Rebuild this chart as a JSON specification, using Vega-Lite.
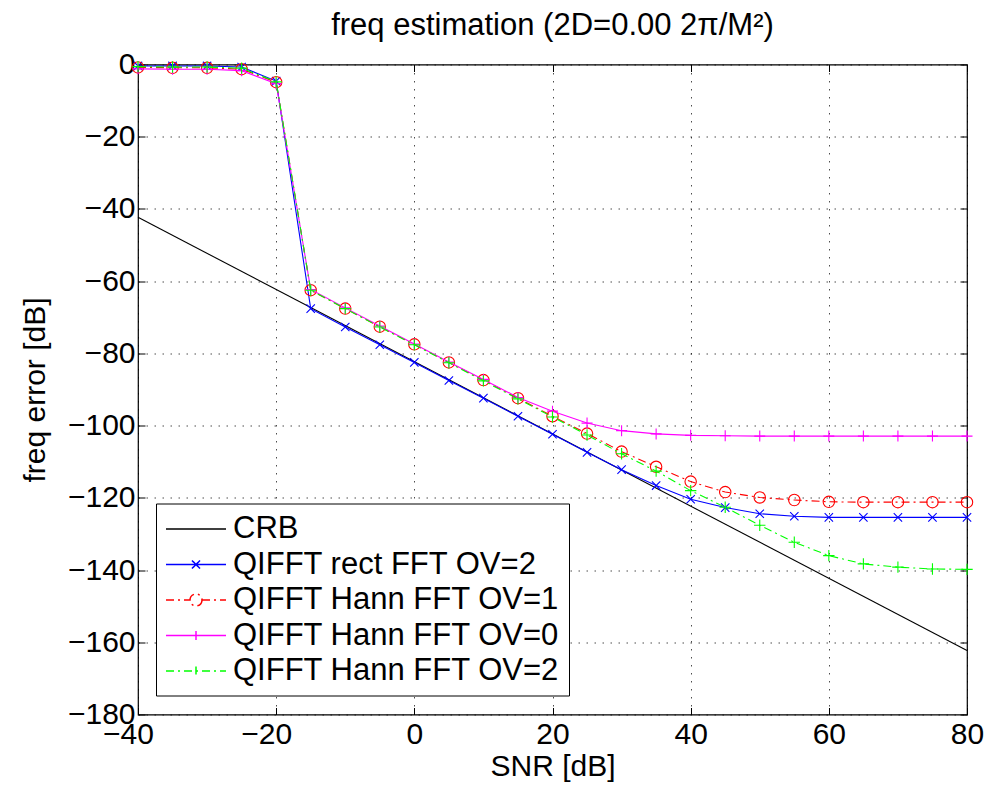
{
  "$schema": "https://vega.github.io/schema/vega-lite/v6.json",
  "width": 829,
  "height": 650,
  "autosize": {"type": "none"},
  "padding": {"left": 138, "top": 64.5, "right": 21, "bottom": 76.5},
  "background": "white",
  "title": {"text": "freq estimation (2D=0.00 2π/M²)", "font": "Liberation Sans", "fontSize": 31, "fontWeight": "normal", "color": "black", "offset": 8, "anchor": "middle"},
  "config": {
    "view": {"stroke": "black", "strokeWidth": 1.2},
    "axis": {"labelFont": "Liberation Sans", "labelFontSize": 30, "labelColor": "black", "titleFont": "Liberation Sans", "titleFontSize": 30, "titleColor": "black", "titleFontWeight": "normal", "tickColor": "black", "tickSize": -7, "tickWidth": 1, "domain": false, "gridColor": "black", "gridDash": [1.5, 6.5], "gridOpacity": 0.7, "gridWidth": 1, "labelFlush": false, "labelOverlap": false},
    "legend": {"labelFont": "Liberation Sans", "labelFontSize": 31, "labelColor": "black", "labelLimit": 0}
  },
  "data": {"values": [
    {"series": "CRB", "snr": -40, "err": -42.3},
    {"series": "CRB", "snr": 80, "err": -162.3},
    {"series": "QIFFT rect FFT OV=2", "snr": -40, "err": -0.4},
    {"series": "QIFFT rect FFT OV=2", "snr": -35, "err": -0.4},
    {"series": "QIFFT rect FFT OV=2", "snr": -30, "err": -0.4},
    {"series": "QIFFT rect FFT OV=2", "snr": -25, "err": -0.7},
    {"series": "QIFFT rect FFT OV=2", "snr": -20, "err": -4.6},
    {"series": "QIFFT rect FFT OV=2", "snr": -15, "err": -67.6},
    {"series": "QIFFT rect FFT OV=2", "snr": -10, "err": -72.7},
    {"series": "QIFFT rect FFT OV=2", "snr": -5, "err": -77.6},
    {"series": "QIFFT rect FFT OV=2", "snr": 0, "err": -82.5},
    {"series": "QIFFT rect FFT OV=2", "snr": 5, "err": -87.5},
    {"series": "QIFFT rect FFT OV=2", "snr": 10, "err": -92.4},
    {"series": "QIFFT rect FFT OV=2", "snr": 15, "err": -97.4},
    {"series": "QIFFT rect FFT OV=2", "snr": 20, "err": -102.4},
    {"series": "QIFFT rect FFT OV=2", "snr": 25, "err": -107.4},
    {"series": "QIFFT rect FFT OV=2", "snr": 30, "err": -112.2},
    {"series": "QIFFT rect FFT OV=2", "snr": 35, "err": -116.6},
    {"series": "QIFFT rect FFT OV=2", "snr": 40, "err": -120.4},
    {"series": "QIFFT rect FFT OV=2", "snr": 45, "err": -122.7},
    {"series": "QIFFT rect FFT OV=2", "snr": 50, "err": -124.4},
    {"series": "QIFFT rect FFT OV=2", "snr": 55, "err": -125.1},
    {"series": "QIFFT rect FFT OV=2", "snr": 60, "err": -125.4},
    {"series": "QIFFT rect FFT OV=2", "snr": 65, "err": -125.4},
    {"series": "QIFFT rect FFT OV=2", "snr": 70, "err": -125.4},
    {"series": "QIFFT rect FFT OV=2", "snr": 75, "err": -125.4},
    {"series": "QIFFT rect FFT OV=2", "snr": 80, "err": -125.4},
    {"series": "QIFFT Hann FFT OV=1", "snr": -40, "err": -0.8},
    {"series": "QIFFT Hann FFT OV=1", "snr": -35, "err": -0.9},
    {"series": "QIFFT Hann FFT OV=1", "snr": -30, "err": -0.9},
    {"series": "QIFFT Hann FFT OV=1", "snr": -25, "err": -1.3},
    {"series": "QIFFT Hann FFT OV=1", "snr": -20, "err": -4.9},
    {"series": "QIFFT Hann FFT OV=1", "snr": -15, "err": -62.5},
    {"series": "QIFFT Hann FFT OV=1", "snr": -10, "err": -67.6},
    {"series": "QIFFT Hann FFT OV=1", "snr": -5, "err": -72.6},
    {"series": "QIFFT Hann FFT OV=1", "snr": 0, "err": -77.5},
    {"series": "QIFFT Hann FFT OV=1", "snr": 5, "err": -82.5},
    {"series": "QIFFT Hann FFT OV=1", "snr": 10, "err": -87.4},
    {"series": "QIFFT Hann FFT OV=1", "snr": 15, "err": -92.4},
    {"series": "QIFFT Hann FFT OV=1", "snr": 20, "err": -97.4},
    {"series": "QIFFT Hann FFT OV=1", "snr": 25, "err": -102.2},
    {"series": "QIFFT Hann FFT OV=1", "snr": 30, "err": -107.2},
    {"series": "QIFFT Hann FFT OV=1", "snr": 35, "err": -111.4},
    {"series": "QIFFT Hann FFT OV=1", "snr": 40, "err": -115.5},
    {"series": "QIFFT Hann FFT OV=1", "snr": 45, "err": -118.4},
    {"series": "QIFFT Hann FFT OV=1", "snr": 50, "err": -119.9},
    {"series": "QIFFT Hann FFT OV=1", "snr": 55, "err": -120.6},
    {"series": "QIFFT Hann FFT OV=1", "snr": 60, "err": -121.1},
    {"series": "QIFFT Hann FFT OV=1", "snr": 65, "err": -121.2},
    {"series": "QIFFT Hann FFT OV=1", "snr": 70, "err": -121.2},
    {"series": "QIFFT Hann FFT OV=1", "snr": 75, "err": -121.2},
    {"series": "QIFFT Hann FFT OV=1", "snr": 80, "err": -121.2},
    {"series": "QIFFT Hann FFT OV=0", "snr": -40, "err": -1.2},
    {"series": "QIFFT Hann FFT OV=0", "snr": -35, "err": -1.3},
    {"series": "QIFFT Hann FFT OV=0", "snr": -30, "err": -1.3},
    {"series": "QIFFT Hann FFT OV=0", "snr": -25, "err": -1.7},
    {"series": "QIFFT Hann FFT OV=0", "snr": -20, "err": -5.3},
    {"series": "QIFFT Hann FFT OV=0", "snr": -15, "err": -62.3},
    {"series": "QIFFT Hann FFT OV=0", "snr": -10, "err": -67.4},
    {"series": "QIFFT Hann FFT OV=0", "snr": -5, "err": -72.4},
    {"series": "QIFFT Hann FFT OV=0", "snr": 0, "err": -77.4},
    {"series": "QIFFT Hann FFT OV=0", "snr": 5, "err": -82.4},
    {"series": "QIFFT Hann FFT OV=0", "snr": 10, "err": -87.2},
    {"series": "QIFFT Hann FFT OV=0", "snr": 15, "err": -92.2},
    {"series": "QIFFT Hann FFT OV=0", "snr": 20, "err": -96.0},
    {"series": "QIFFT Hann FFT OV=0", "snr": 25, "err": -99.3},
    {"series": "QIFFT Hann FFT OV=0", "snr": 30, "err": -101.4},
    {"series": "QIFFT Hann FFT OV=0", "snr": 35, "err": -102.3},
    {"series": "QIFFT Hann FFT OV=0", "snr": 40, "err": -102.7},
    {"series": "QIFFT Hann FFT OV=0", "snr": 45, "err": -102.8},
    {"series": "QIFFT Hann FFT OV=0", "snr": 50, "err": -102.9},
    {"series": "QIFFT Hann FFT OV=0", "snr": 55, "err": -102.9},
    {"series": "QIFFT Hann FFT OV=0", "snr": 60, "err": -102.9},
    {"series": "QIFFT Hann FFT OV=0", "snr": 65, "err": -102.9},
    {"series": "QIFFT Hann FFT OV=0", "snr": 70, "err": -102.9},
    {"series": "QIFFT Hann FFT OV=0", "snr": 75, "err": -102.9},
    {"series": "QIFFT Hann FFT OV=0", "snr": 80, "err": -102.9},
    {"series": "QIFFT Hann FFT OV=2", "snr": -40, "err": -0.6},
    {"series": "QIFFT Hann FFT OV=2", "snr": -35, "err": -0.7},
    {"series": "QIFFT Hann FFT OV=2", "snr": -30, "err": -0.7},
    {"series": "QIFFT Hann FFT OV=2", "snr": -25, "err": -1.0},
    {"series": "QIFFT Hann FFT OV=2", "snr": -20, "err": -4.8},
    {"series": "QIFFT Hann FFT OV=2", "snr": -15, "err": -62.5},
    {"series": "QIFFT Hann FFT OV=2", "snr": -10, "err": -67.6},
    {"series": "QIFFT Hann FFT OV=2", "snr": -5, "err": -72.7},
    {"series": "QIFFT Hann FFT OV=2", "snr": 0, "err": -77.6},
    {"series": "QIFFT Hann FFT OV=2", "snr": 5, "err": -82.6},
    {"series": "QIFFT Hann FFT OV=2", "snr": 10, "err": -87.6},
    {"series": "QIFFT Hann FFT OV=2", "snr": 15, "err": -92.6},
    {"series": "QIFFT Hann FFT OV=2", "snr": 20, "err": -97.6},
    {"series": "QIFFT Hann FFT OV=2", "snr": 25, "err": -102.6},
    {"series": "QIFFT Hann FFT OV=2", "snr": 30, "err": -107.8},
    {"series": "QIFFT Hann FFT OV=2", "snr": 35, "err": -112.6},
    {"series": "QIFFT Hann FFT OV=2", "snr": 40, "err": -118.0},
    {"series": "QIFFT Hann FFT OV=2", "snr": 45, "err": -122.6},
    {"series": "QIFFT Hann FFT OV=2", "snr": 50, "err": -127.6},
    {"series": "QIFFT Hann FFT OV=2", "snr": 55, "err": -132.3},
    {"series": "QIFFT Hann FFT OV=2", "snr": 60, "err": -136.0},
    {"series": "QIFFT Hann FFT OV=2", "snr": 65, "err": -138.3},
    {"series": "QIFFT Hann FFT OV=2", "snr": 70, "err": -139.2},
    {"series": "QIFFT Hann FFT OV=2", "snr": 75, "err": -139.7},
    {"series": "QIFFT Hann FFT OV=2", "snr": 80, "err": -139.8}
  ]},
  "resolve": {"axis": {"x": "independent", "y": "independent"}},
  "layer": [
    {
      "transform": [{"filter": {"field": "series", "equal": "CRB"}}],
      "mark": {"type": "line", "color": "black", "strokeWidth": 1.1},
      "encoding": {
        "x": {"field": "snr", "type": "quantitative", "scale": {"domain": [-40, 80], "nice": false, "zero": false},
              "axis": {"orient": "top", "labels": false, "grid": false, "ticks": true, "title": null, "values": [-40, -20, 0, 20, 40, 60, 80]}},
        "y": {"field": "err", "type": "quantitative", "scale": {"domain": [-180, 0], "nice": false, "zero": false},
              "axis": {"orient": "right", "labels": false, "grid": false, "ticks": true, "title": null, "values": [-180, -160, -140, -120, -100, -80, -60, -40, -20, 0]}}
      }
    },
    {
      "transform": [{"filter": {"field": "series", "equal": "QIFFT rect FFT OV=2"}}],
      "mark": {"type": "line", "color": "#0000ff", "strokeWidth": 1.1},
      "encoding": {
        "x": {"field": "snr", "type": "quantitative",
              "axis": {"orient": "bottom", "grid": true, "title": "SNR [dB]", "values": [-40, -20, 0, 20, 40, 60, 80], "labelPadding": 12, "titlePadding": 2,
                       "labelOffset": {"condition": {"test": "datum.value < 0", "value": -10}, "value": 0}}},
        "y": {"field": "err", "type": "quantitative",
              "axis": {"orient": "left", "grid": true, "title": "freq error [dB]", "values": [-180, -160, -140, -120, -100, -80, -60, -40, -20, 0], "labelPadding": 10, "titlePadding": 17}}
      }
    },
    {
      "transform": [{"filter": {"field": "series", "equal": "QIFFT rect FFT OV=2"}}],
      "mark": {"type": "point", "shape": "M-1,-1L1,1M-1,1L1,-1", "size": 70, "filled": false, "color": "#0000ff", "strokeWidth": 1.1, "opacity": 1},
      "encoding": {
        "x": {"field": "snr", "type": "quantitative", "axis": null},
        "y": {"field": "err", "type": "quantitative", "axis": null}
      }
    },
    {
      "transform": [{"filter": {"field": "series", "equal": "QIFFT Hann FFT OV=1"}}],
      "mark": {"type": "line", "color": "#ff0000", "strokeWidth": 1.1, "strokeDash": [8, 4, 2, 4]},
      "encoding": {
        "x": {"field": "snr", "type": "quantitative", "axis": null},
        "y": {"field": "err", "type": "quantitative", "axis": null}
      }
    },
    {
      "transform": [{"filter": {"field": "series", "equal": "QIFFT Hann FFT OV=1"}}],
      "mark": {"type": "point", "shape": "circle", "size": 130, "filled": false, "color": "#ff0000", "strokeWidth": 1.1, "opacity": 1},
      "encoding": {
        "x": {"field": "snr", "type": "quantitative", "axis": null},
        "y": {"field": "err", "type": "quantitative", "axis": null}
      }
    },
    {
      "transform": [{"filter": {"field": "series", "equal": "QIFFT Hann FFT OV=0"}}],
      "mark": {"type": "line", "color": "#ff00ff", "strokeWidth": 1.1},
      "encoding": {
        "x": {"field": "snr", "type": "quantitative", "axis": null},
        "y": {"field": "err", "type": "quantitative", "axis": null}
      }
    },
    {
      "transform": [{"filter": {"field": "series", "equal": "QIFFT Hann FFT OV=0"}}],
      "mark": {"type": "point", "shape": "M-1,0L1,0M0,-1L0,1", "size": 121, "filled": false, "color": "#ff00ff", "strokeWidth": 1.1, "opacity": 1},
      "encoding": {
        "x": {"field": "snr", "type": "quantitative", "axis": null},
        "y": {"field": "err", "type": "quantitative", "axis": null}
      }
    },
    {
      "transform": [{"filter": {"field": "series", "equal": "QIFFT Hann FFT OV=2"}}],
      "mark": {"type": "line", "color": "#00ff00", "strokeWidth": 1.1, "strokeDash": [8, 4, 2, 4]},
      "encoding": {
        "x": {"field": "snr", "type": "quantitative", "axis": null},
        "y": {"field": "err", "type": "quantitative", "axis": null}
      }
    },
    {
      "transform": [{"filter": {"field": "series", "equal": "QIFFT Hann FFT OV=2"}}],
      "mark": {"type": "point", "shape": "M-1,0L1,0M0,-1L0,1", "size": 130, "filled": false, "color": "#00ff00", "strokeWidth": 1.1, "opacity": 1},
      "encoding": {
        "x": {"field": "snr", "type": "quantitative", "axis": null},
        "y": {"field": "err", "type": "quantitative", "axis": null}
      }
    },
    {
      "transform": [{"filter": "datum.snr > 1000"}],
      "mark": {"type": "point", "filled": false, "size": 900, "strokeWidth": 1.1, "opacity": 1},
      "encoding": {
        "color": {"field": "series", "type": "nominal",
                  "scale": {"domain": ["CRB", "QIFFT rect FFT OV=2", "QIFFT Hann FFT OV=1", "QIFFT Hann FFT OV=0", "QIFFT Hann FFT OV=2"],
                            "range": ["#000000", "#0000ff", "#ff0000", "#ff00ff", "#00ff00"]},
                  "legend": {"title": null, "orient": "none", "legendX": 18, "legendY": 439, "padding": 9.5, "strokeColor": "black", "fillColor": "white", "symbolSize": 900, "rowPadding": 4.5, "labelOffset": 21, "symbolOffset": 14.5, "labelFontSize": 31, "labelLimit": 0}},
        "shape": {"field": "series", "type": "nominal",
                  "scale": {"domain": ["CRB", "QIFFT rect FFT OV=2", "QIFFT Hann FFT OV=1", "QIFFT Hann FFT OV=0", "QIFFT Hann FFT OV=2"],
                            "range": ["M-2,0H2", "M-2,0H2M-0.27,-0.27L0.27,0.27M-0.27,0.27L0.27,-0.27", "M-2,0H-0.4M0.4,0H2M0.4,0A0.4,0.4,0,1,1,-0.4,0A0.4,0.4,0,1,1,0.4,0", "M-2,0H2M0,-0.3V0.3", "M-2,0H2M0,-0.3V0.3"]},
                  "legend": {"title": null}},
        "strokeDash": {"field": "series", "type": "nominal",
                  "scale": {"domain": ["CRB", "QIFFT rect FFT OV=2", "QIFFT Hann FFT OV=1", "QIFFT Hann FFT OV=0", "QIFFT Hann FFT OV=2"],
                            "range": [[1, 0], [1, 0], [8, 4, 2, 4], [1, 0], [8, 4, 2, 4]]},
                  "legend": {"title": null}}
      }
    }
  ]
}
